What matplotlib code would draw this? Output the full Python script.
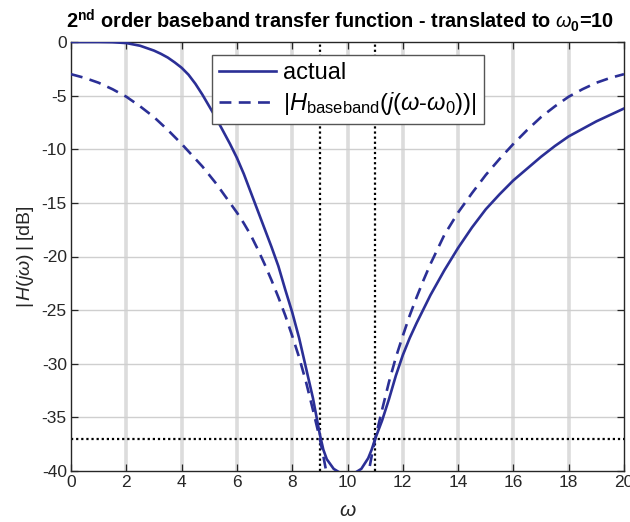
import matplotlib
matplotlib.use("Agg")
import matplotlib.pyplot as plt

# frequency axis (rad/s) and magnitude responses in dB
w = [0, 0.5, 1, 1.5, 2, 2.5, 3, 3.25, 3.5, 3.75, 4, 4.25, 4.5, 4.75, 5, 5.25, 5.5, 5.75,
     6, 6.25, 6.5, 6.75, 7, 7.25, 7.5, 7.75, 8, 8.25, 8.5, 8.75, 9, 9.125, 9.25, 9.5,
     9.75, 10, 10.25, 10.5, 10.75, 10.875, 11, 11.25, 11.5, 11.75, 12, 12.25, 12.5,
     12.75, 13, 13.5, 14, 14.5, 15, 15.5, 16, 16.5, 17, 17.5, 18, 18.5, 19, 19.5, 20]

mag_actual = [0, 0, 0, -0.02, -0.1, -0.35, -0.8, -1.1, -1.45, -1.9, -2.4, -3.05, -3.9,
              -4.9, -6.0, -7.1, -8.3, -9.5, -10.8, -12.3, -14.0, -15.7, -17.4, -19.1,
              -20.9, -23.1, -25.2, -27.6, -30.4, -33.2, -36.6, -38.0, -38.9, -39.8,
              -40.2, -40.4, -40.2, -39.8, -38.8, -38.0, -37.0, -35.3, -33.3, -31.1,
              -29.2, -27.6, -26.2, -24.9, -23.6, -21.3, -19.2, -17.3, -15.6, -14.2,
              -12.9, -11.8, -10.7, -9.7, -8.8, -8.1, -7.4, -6.8, -6.2]

mag_baseband = [-3.0, -3.35, -3.8, -4.4, -5.1, -6.0, -7.0, -7.6, -8.2, -8.85, -9.5,
                -10.2, -10.9, -11.6, -12.4, -13.2, -14.1, -15.0, -15.9, -16.9, -18.0,
                -19.3, -20.7, -22.2, -23.8, -25.5, -27.4, -29.4, -31.7, -34.3, -37.0,
                -38.6, -40.3, -44.0, -50.0, -60.0, -50.0, -44.0, -40.3, -38.6, -37.0,
                -34.3, -31.7, -29.4, -27.4, -25.5, -23.8, -22.2, -20.7, -18.0, -15.9,
                -14.1, -12.4, -10.9, -9.5, -8.2, -7.0, -6.0, -5.1, -4.4, -3.8, -3.35,
                -3.0]

w_edges = [9, 11]
mag_edge = -37

plt.rcParams["font.family"] = ["Liberation Sans", "DejaVu Sans"]
plt.rcParams["mathtext.fontset"] = "custom"
plt.rcParams["mathtext.rm"] = "Liberation Sans"
plt.rcParams["mathtext.it"] = "Liberation Sans:italic"
plt.rcParams["mathtext.bf"] = "Liberation Sans:bold"
plt.rcParams["axes.unicode_minus"] = False

dark = "#262626"
blue = "#2b2f96"

fig = plt.figure(figsize=(6.3, 5.22), dpi=100)
ax = fig.add_axes([71 / 630, 51 / 522, 553 / 630, 429 / 522])

# grid: heavy light verticals, thin horizontals
for xv in range(2, 20, 2):
    ax.axvline(xv, color="#dcdcdc", lw=2.6, zorder=0)
for yv in range(-35, 0, 5):
    ax.axhline(yv, color="#cfcfcf", lw=1.0, zorder=0)

ax.plot(w, mag_actual, color=blue, lw=1.9, label="actual", zorder=3)
ax.plot(w, mag_baseband, color=blue, lw=1.9, ls=(0, (4.5, 2.8)),
        label=r"$|H_{\rm baseband}(j(\omega$-$\omega_0))|$", zorder=3)

for xe in w_edges:
    ax.axvline(xe, color="black", lw=1.6, ls=(0, (1, 1.3)), zorder=2)
ax.axhline(mag_edge, color="black", lw=1.6, ls=(0, (1, 1.3)), zorder=2)

ax.set_xlim(0, 20)
ax.set_ylim(-40, 0)
ax.set_xticks(range(0, 21, 2))
ax.set_yticks(range(-40, 1, 5))
ax.tick_params(direction="in", top=True, right=True, length=5, width=0.9,
               colors=dark, labelsize=12.5, pad=3)
for s in ax.spines.values():
    s.set_color(dark)
    s.set_linewidth(1.0)

ax.set_xlabel(r"$\omega$", fontsize=15, color=dark, labelpad=8)
ax.set_ylabel(r"$|\,H(j\omega)\,|$ [dB]", fontsize=14, color=dark, labelpad=4)
ax.set_title(r"$\mathbf{2^{nd}}$ order baseband transfer function - translated to $\omega_\mathbf{0}$=10",
             fontsize=14.3, fontweight="bold", pad=10, x=0.487)

leg = ax.legend(loc="upper left", bbox_to_anchor=(0.255, 0.970), borderaxespad=0,
                fontsize=17, fancybox=False, framealpha=1, edgecolor="#555555",
                handlelength=2.4, handletextpad=0.3, borderpad=0.3, labelspacing=0.25)
leg.get_frame().set_linewidth(1.0)

fig.savefig("out.png", dpi=100)
